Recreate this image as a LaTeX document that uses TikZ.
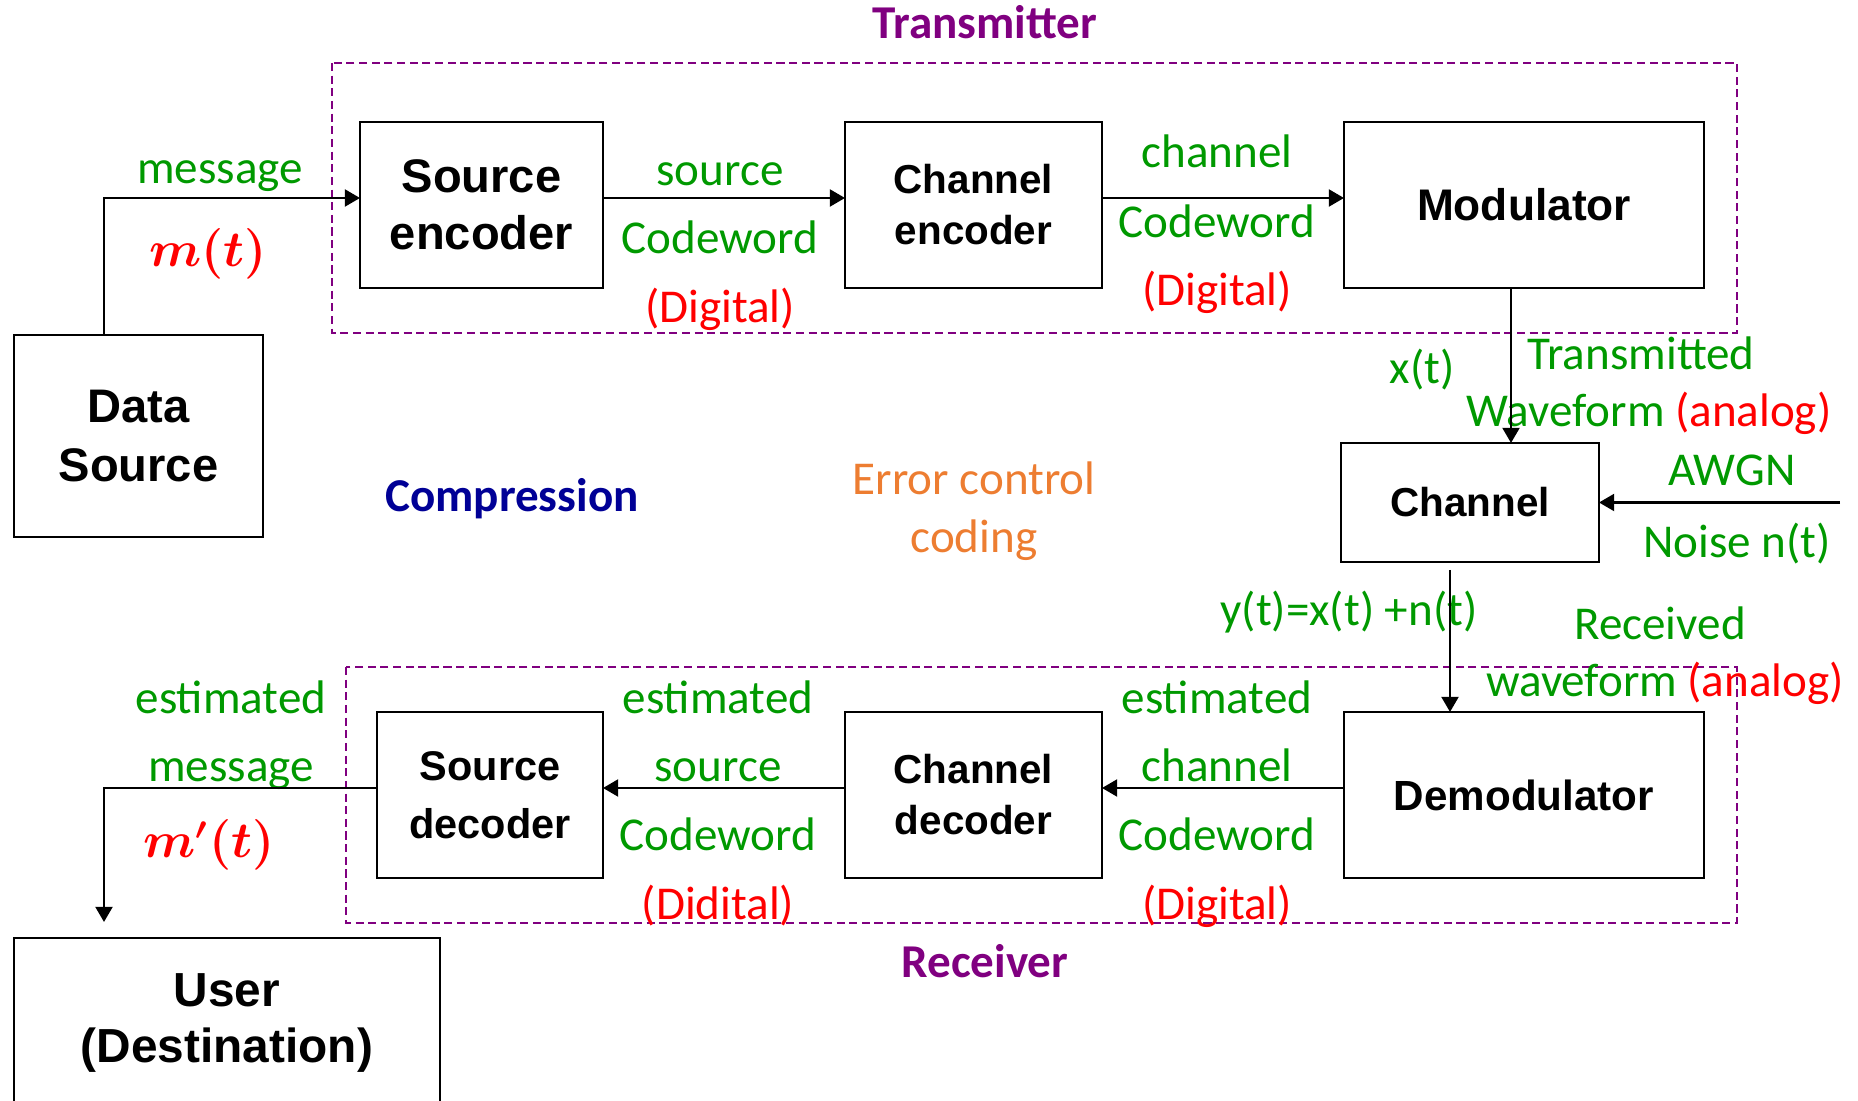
\documentclass[tikz,border=0pt]{standalone}
\usepackage{amsmath}
\usepackage{fontspec}
\setmainfont{Carlito}
\newfontfamily\cajafont{Liberation Sans}
\usepackage{xcolor}
\usepackage{tikz}
\usetikzlibrary{arrows.meta,positioning}

\definecolor{verde}{RGB}{0,153,0}
\definecolor{rojo}{RGB}{255,0,0}
\definecolor{morado}{RGB}{128,0,128}
\definecolor{azul}{RGB}{0,0,150}
\definecolor{naranja}{RGB}{237,125,49}

\begin{document}
\begin{tikzpicture}[
    caja/.style 2 args={draw, line width=0.8pt, align=center, inner sep=2pt, outer sep=0pt,
                 font=\cajafont\fontsize{#1}{#2}\selectfont\bfseries},
    etiq/.style={anchor=base, inner sep=0pt, text=verde,
                 font=\fontsize{13.4}{16}\selectfont},
    dig/.style={etiq, text=rojo},
    titulo/.style={etiq, text=morado, font=\fontsize{13.4}{16}\selectfont\bfseries},
    flecha/.style={-{Triangle[length=4.3pt,width=4.8pt]}, line width=0.7pt},
    grupo/.style={draw=morado, line width=0.6pt, dash pattern=on 2.3pt off 1.3pt},
    node distance=2.42cm
  ]
    \useasboundingbox (0,0) rectangle (18.58,-11.01);

    % transmisor
    \node[caja={13.4}{16.2}, minimum width=2.43cm, minimum height=1.66cm] (senc) at (4.815,-2.05) {Source\\encoder};
    \node[caja={11.5}{14.5}, minimum width=2.57cm, minimum height=1.66cm, right=of senc] (cenc) {Channel\\encoder};
    \node[caja={12.6}{15}, minimum width=3.6cm, minimum height=1.66cm, right=of cenc] (mod) {Modulator};
    \node[caja={11.5}{14}, minimum width=2.58cm, minimum height=1.19cm, below=1.55cm of mod, xshift=-0.54cm] (chan) {Channel};

    % receptor
    \node[caja={12}{15}, minimum width=3.6cm, minimum height=1.66cm, below=4.24cm of mod] (demod) {Demodulator};
    \node[caja={11.5}{14.5}, minimum width=2.57cm, minimum height=1.66cm, left=of demod] (cdec) {Channel\\decoder};
    \node[caja={11.8}{16.5}, minimum width=2.26cm, minimum height=1.66cm, left=of cdec] (sdec) {Source\\decoder};

    % extremos
    \node[caja={13.4}{16.8}, minimum width=2.49cm, minimum height=2.02cm] (dsrc) at (1.385,-4.36) {Data\\Source};
    \node[caja={13.6}{16}, minimum width=4.26cm, minimum height=1.70cm] (user) at (2.27,-10.23) {User\\(Destination)};

    \draw[grupo] (3.32,-0.63) rectangle (17.37,-3.33);
    \draw[grupo] (3.46,-6.67) rectangle (17.37,-9.23);
    \node[titulo] (ttx) at (9.85,-0.39) {Transmitter};
    \node[titulo] (trx) at (9.85,-9.78) {Receiver};

    % etiquetas de las senales
    \node[etiq] (lmsg) at (2.20,-1.84) {message};
    \node[dig] (lmt) at (2.08,-2.67) {$\boldsymbol{m(t)}$};
    \node[etiq] (ls1) at (7.20,-1.857) {source};
    \node[etiq] (ls2) at (7.20,-2.54) {Codeword};
    \node[dig] (ls3) at (7.20,-3.23) {(Digital)};
    \node[etiq] (lc1) at (12.17,-1.68) {channel};
    \node[etiq] (lc2) at (12.17,-2.375) {Codeword};
    \node[dig] (lc3) at (12.17,-3.06) {(Digital)};
    \node[etiq] (lxt) at (14.22,-3.84) {x(t)};
    \node[etiq] (ltw1) at (16.41,-3.70) {Transmitted};
    \node[etiq] (ltw2) at (16.49,-4.27) {Waveform \textcolor{rojo}{(analog)}};
    \node[etiq] (lawgn) at (17.32,-4.86) {AWGN};
    \node[etiq] (lnoise) at (17.37,-5.58) {Noise n(t)};
    \node[etiq, text=azul, font=\fontsize{13.4}{16}\selectfont\bfseries] (lcomp) at (5.12,-5.12) {Compression};
    \node[etiq, text=naranja] (lerr1) at (9.74,-4.95) {Error control};
    \node[etiq, text=naranja] (lerr2) at (9.74,-5.53) {coding};
    \node[etiq] (lyt) at (13.49,-6.26) {y(t)=x(t) +n(t)};
    \node[etiq] (lrw1) at (16.60,-6.40) {Received};
    \node[etiq] (lrw2) at (16.65,-6.97) {waveform \textcolor{rojo}{(analog)}};
    \node[etiq] (lem1) at (2.31,-7.135) {estimated};
    \node[etiq] (lem2) at (2.31,-7.815) {message};
    \node[dig] (lemt) at (2.09,-8.58) {$\boldsymbol{m'(t)}$};
    \node[etiq] (les1) at (7.18,-7.135) {estimated};
    \node[etiq] (les2) at (7.18,-7.815) {source};
    \node[etiq] (les3) at (7.18,-8.51) {Codeword};
    \node[dig] (les4) at (7.18,-9.20) {(Didital)};
    \node[etiq] (lec1) at (12.17,-7.135) {estimated};
    \node[etiq] (lec2) at (12.17,-7.815) {channel};
    \node[etiq] (lec3) at (12.17,-8.51) {Codeword};
    \node[dig] (lec4) at (12.17,-9.20) {(Digital)};

    % conexiones
    \coordinate[right=2.41cm of chan] (ruido);
    \coordinate (fin) at (1.04,-9.22);
    \draw[flecha] ([xshift=-3.45mm]dsrc.north) |- ([yshift=0.7mm]senc.west);
    \draw[flecha] ([yshift=0.7mm]senc.east) -- ([yshift=0.7mm]cenc.west);
    \draw[flecha] ([yshift=0.7mm]cenc.east) -- ([yshift=0.7mm]mod.west);
    \draw[flecha] ([xshift=-1.3mm]mod.south) -- ([xshift=-1.3mm]mod.south |- chan.north);
    \draw[flecha] (ruido) -- (chan);
    \draw[flecha, shorten <=0.8mm] ([xshift=-2mm]chan.south) -- ([xshift=-2mm]chan.south |- demod.north);
    \draw[flecha] ([yshift=0.7mm]demod.west) -- ([yshift=0.7mm]cdec.east);
    \draw[flecha] ([yshift=0.7mm]cdec.west) -- ([yshift=0.7mm]sdec.east);
    \draw[flecha] ([yshift=0.7mm]sdec.west) -| (fin);
  \end{tikzpicture}
\end{document}
